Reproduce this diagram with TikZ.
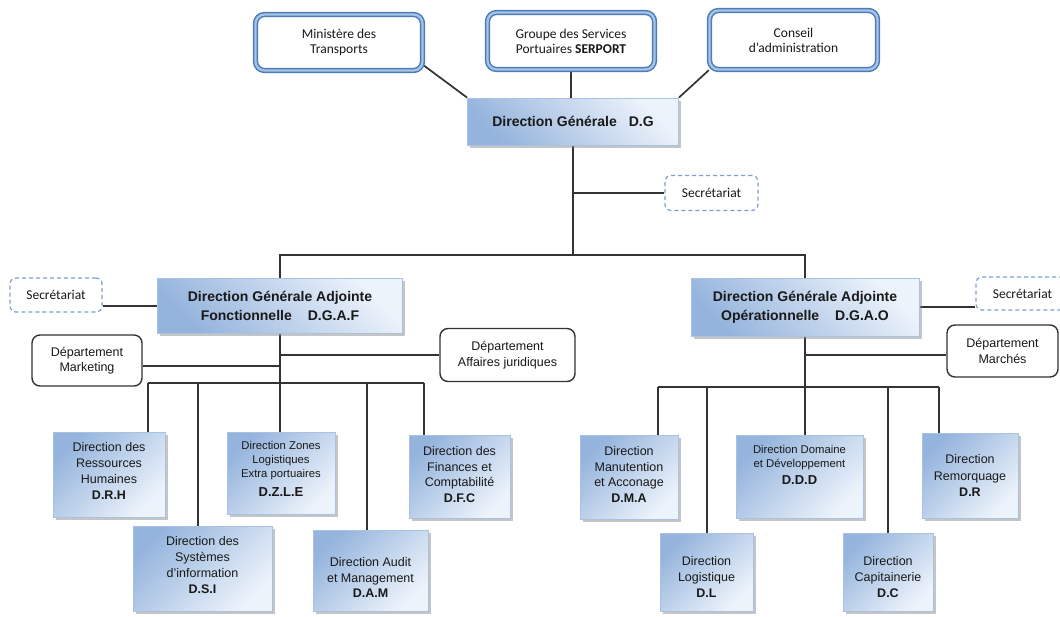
\documentclass[tikz,border=0pt]{standalone}
\usepackage{fontspec}
\setmainfont{Liberation Sans}
\newfontfamily\calfont{Carlito}
\usetikzlibrary{shadows,backgrounds,calc}

\definecolor{boxdark}{HTML}{95B4DD}
\definecolor{boxlight}{HTML}{EDF3FB}
\definecolor{boxedge}{HTML}{A9C2E2}
\definecolor{frameblue}{HTML}{4A7CBA}
\definecolor{framemid}{HTML}{A8C3E6}
\definecolor{dashblue}{HTML}{7C9FCF}
\definecolor{wire}{HTML}{333333}

\tikzset{
  conn/.style={draw=wire, line width=1.7pt},
  topbox/.style={draw=frameblue, line width=1.5pt, double=framemid, double distance=2.3pt,
    rounded corners=9pt, fill=white, inner sep=0pt, align=center, text=black!90,
    font=\calfont\fontsize{13.5}{15}\selectfont},
  secbox/.style={draw=dashblue, line width=1.2pt, dash pattern=on 4pt off 3pt,
    rounded corners=6pt, fill=white, inner sep=0pt, text=black!90,
    font=\calfont\fontsize{13.5}{15}\selectfont},
  deptbox/.style={draw=black!80, line width=1.4pt, rounded corners=8pt, fill=white,
    inner sep=0pt, align=center, text=black!90, font=\fontsize{12.5}{15.5}\selectfont},
  dirbox/.style={draw=boxedge, line width=0.8pt, top color=boxdark, bottom color=boxlight,
    shading angle=45, inner sep=0pt,
    drop shadow={shadow xshift=2.5pt, shadow yshift=-2.5pt, fill=black!45, opacity=0.5}},
  headbox/.style={dirbox, shading angle=135, align=center,
    font=\bfseries\fontsize{14}{19}\selectfont, text=black!90},
  dirtext/.style={align=center, inner sep=0pt, text=black!90,
    font=\fontsize{12.5}{15.8}\selectfont},
  smalltext/.style={dirtext, font=\fontsize{11.3}{14}\selectfont},
}

\begin{document}
\begin{tikzpicture}[x=1pt,y=-1pt]
\useasboundingbox (0,0) rectangle (1060,616);

% supervising bodies
\node[topbox, minimum width=167pt, minimum height=56pt] (min) at (339,42.5) {Ministère des\\Transports};
\node[topbox, minimum width=167pt, minimum height=57pt] (grp) at (571,41) {Groupe des Services\\Portuaires \textbf{SERPORT}};
\node[topbox, minimum width=168pt, minimum height=59pt] (con) at (793.5,40) {Conseil\\d’administration};

% general management
\node[headbox, minimum width=211pt, minimum height=47pt] (dg) at (573,121.5) {Direction Générale\hspace{12pt}D.G};
\node[secbox, minimum width=93pt, minimum height=35pt] (sec1) at (711.5,193) {Secrétariat};

% deputy managements
\node[headbox, minimum width=245pt, minimum height=55pt] (dgaf) at (280,306) {Direction Générale Adjointe\\Fonctionnelle\hspace{16pt}D.G.A.F};
\node[headbox, minimum width=228pt, minimum height=58pt] (dgao) at (805,307) {Direction Générale Adjointe\\Opérationnelle\hspace{16pt}D.G.A.O};
\node[secbox, minimum width=92pt, minimum height=34pt] (secL) at (56,295) {Secrétariat};
\node[secbox, minimum width=93pt, minimum height=33pt] (secR) at (1022.5,293.5) {Secrétariat};

% departments
\node[deptbox, minimum width=110pt, minimum height=51pt] (mkt) at (87,360.5) {Département\\Marketing};
\node[deptbox, minimum width=135pt, minimum height=53pt] (jur) at (507.5,355) {Département\\Affaires juridiques};
\node[deptbox, minimum width=111pt, minimum height=52pt] (mar) at (1002.5,351) {Département\\Marchés};

% functional directions
\node[dirbox, minimum width=112pt, minimum height=85pt] (drh) at (109,474.5) {};
\node[dirtext] (drht) at (109,471) {Direction des\\Ressources\\Humaines\\\textbf{D.R.H}};
\node[dirbox, minimum width=139pt, minimum height=85pt] (dsi) at (202.5,568.5) {};
\node[dirtext] (dsit) at (202.5,565) {Direction des\\Systèmes\\d’information\\\textbf{D.S.I}};
\node[dirbox, minimum width=108pt, minimum height=82pt] (dzle) at (281,473) {};
\node[smalltext] (dzlet) at (281,469) {Direction Zones\\Logistiques\\Extra portuaires\\[5pt]{\fontsize{13}{15}\selectfont\bfseries D.Z.L.E}};
\node[dirbox, minimum width=115pt, minimum height=81pt] (dam) at (370.5,570.5) {};
\node[dirtext] (damt) at (370.5,577.5) {Direction Audit\\et Management\\\textbf{D.A.M}};
\node[dirbox, minimum width=101pt, minimum height=83pt] (dfc) at (459.5,476.5) {};
\node[dirtext] (dfct) at (459.5,474.5) {Direction des\\Finances et\\Comptabilité\\\textbf{D.F.C}};

% operational directions
\node[dirbox, minimum width=98pt, minimum height=84pt] (dma) at (629,477) {};
\node[dirtext] (dmat) at (629,474.5) {Direction\\Manutention\\et Acconage\\\textbf{D.M.A}};
\node[dirbox, minimum width=93pt, minimum height=78pt] (dl) at (706.5,572) {};
\node[dirtext] (dlt) at (706.5,577) {Direction\\Logistique\\\textbf{D.L}};
\node[dirbox, minimum width=127pt, minimum height=83pt] (ddd) at (799.5,476.5) {};
\node[smalltext] (dddt) at (799.5,465) {Direction Domaine\\et Développement\\[3pt]{\fontsize{13}{15}\selectfont\bfseries D.D.D}};
\node[dirbox, minimum width=90pt, minimum height=78pt] (dc) at (888,572) {};
\node[dirtext] (dct) at (888,577) {Direction\\Capitainerie\\\textbf{D.C}};
\node[dirbox, minimum width=96pt, minimum height=85pt] (dr) at (970,475.5) {};
\node[dirtext, font=\fontsize{12.5}{16.8}\selectfont] (drt) at (970,475.5) {Direction\\Remorquage\\\textbf{D.R}};

% junction points on the trunks and buses
\coordinate (busTop) at (573,255);
\coordinate (mktJ) at (280,366);
\coordinate (busL) at (280,383);
\coordinate (bL1) at (148,383);
\coordinate (bL2) at (198,383);
\coordinate (bL3) at (280,383);
\coordinate (bL4) at (367,383);
\coordinate (bL5) at (424,383);
\coordinate (marJ) at (805,355);
\coordinate (busR) at (805,387);
\coordinate (bR1) at (658,387);
\coordinate (bR2) at (707,387);
\coordinate (bR3) at (805,387);
\coordinate (bR4) at (888,387);
\coordinate (bR5) at (939,387);

\begin{scope}[on background layer]
  \fill[white] (0,0) rectangle (1060,616);
  % top level
  \draw[conn] (min.-15) -- (dg.north west);
  \draw[conn] (grp.south) -- (grp.south |- dg.north);
  \draw[conn] (con.south west) -- (dg.north east);
  \draw[conn] (dg.south) -- (dg.south |- busTop);
  \draw[conn] (sec1.west) -- (sec1.west -| dg.south);
  \draw[conn] (dgaf.north) -- (dgaf.north |- busTop) -- (dgao.north |- busTop) -- (dgao.north);
  % functional side
  \draw[conn] (secL.east |- dgaf.west) -- (dgaf.west);
  \draw[conn] (dgaf.south) -- (busL);
  \draw[conn] (mkt.east |- mktJ) -- (mktJ);
  \draw[conn] (jur.west) -- (jur.west -| dgaf.south);
  \draw[conn] (bL1) -- (bL5);
  \draw[conn] (bL1) -- (bL1 |- drh.north);
  \draw[conn] (bL2) -- (bL2 |- dsi.north);
  \draw[conn] (bL3) -- (bL3 |- dzle.north);
  \draw[conn] (bL4) -- (bL4 |- dam.north);
  \draw[conn] (bL5) -- (bL5 |- dfc.north);
  % operational side
  \draw[conn] (dgao.east) -- (dgao.east -| secR.west);
  \draw[conn] (dgao.south) -- (busR);
  \draw[conn] (marJ) -- (marJ -| mar.west);
  \draw[conn] (bR1) -- (bR5);
  \draw[conn] (bR1) -- (bR1 |- dma.north);
  \draw[conn] (bR2) -- (bR2 |- dl.north);
  \draw[conn] (bR3) -- (bR3 |- ddd.north);
  \draw[conn] (bR4) -- (bR4 |- dc.north);
  \draw[conn] (bR5) -- (bR5 |- dr.north);
\end{scope}
\end{tikzpicture}
\end{document}
